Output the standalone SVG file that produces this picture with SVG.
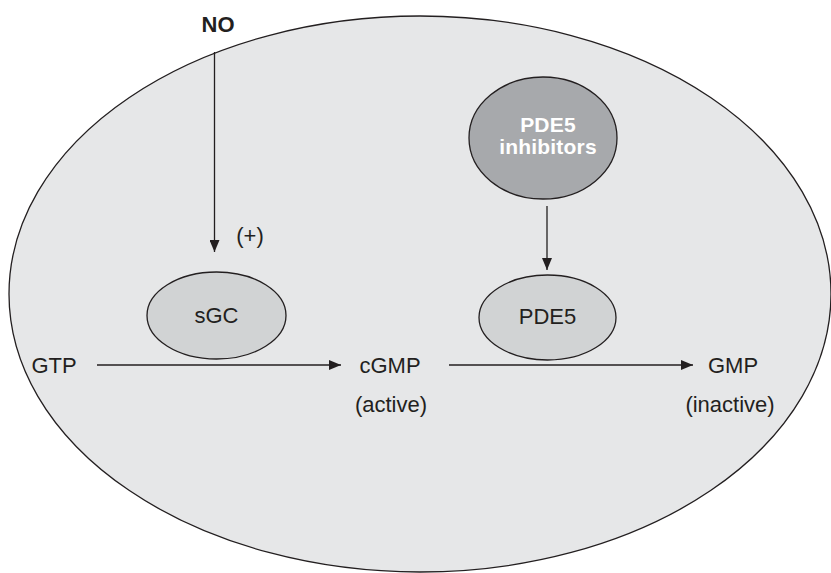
<svg xmlns="http://www.w3.org/2000/svg" width="831" height="573" viewBox="0 0 831 573">
<style>
.t{font-family:"Liberation Sans",Arial,sans-serif;font-size:22px;fill:#231f20;text-anchor:middle}
.b{font-weight:bold}
.w{fill:#ffffff;font-weight:bold;font-size:21px;letter-spacing:0.2px}
.ln{stroke:#231f20;stroke-width:1.3;fill:none}
.node{stroke:#231f20;stroke-width:1.3}
</style>
<defs>
<marker id="ah" viewBox="0 0 12 10" refX="12" refY="5" markerWidth="12" markerHeight="10" markerUnits="userSpaceOnUse" orient="auto">
<path d="M0,0 L12,5 L0,10 Z" fill="#231f20"/>
</marker>
</defs>
<rect width="831" height="573" fill="#ffffff"/>
<g id="cell">
<ellipse cx="420" cy="294" rx="411" ry="278" fill="#e6e7e8" class="node"/>
</g>
<g id="connectors">
<line x1="214.5" y1="52" x2="214.5" y2="252" class="ln" marker-end="url(#ah)"/>
<line x1="547" y1="206" x2="547" y2="270" class="ln" marker-end="url(#ah)"/>
<line x1="97" y1="365" x2="341" y2="365" class="ln" marker-end="url(#ah)"/>
<line x1="449" y1="365" x2="693" y2="365" class="ln" marker-end="url(#ah)"/>
</g>
<g id="no"><text x="218" y="32" class="t b">NO</text></g>
<g id="plus"><text x="250" y="243" class="t">(+)</text></g>
<g id="sgc">
<ellipse cx="216.5" cy="315.5" rx="69.5" ry="43.5" fill="#d1d3d4" class="node"/>
<text x="216.5" y="323" class="t">sGC</text>
</g>
<g id="pde5inh">
<ellipse cx="543" cy="138" rx="74" ry="61" fill="#a7a9ac" class="node"/>
<text x="548" y="132" class="t w">PDE5</text>
<text x="548" y="154" class="t w">inhibitors</text>
</g>
<g id="pde5">
<ellipse cx="547.5" cy="317.5" rx="68.5" ry="42.5" fill="#d1d3d4" class="node"/>
<text x="547.5" y="324" class="t">PDE5</text>
</g>
<g id="gtp"><text x="54" y="373" class="t">GTP</text></g>
<g id="cgmp">
<text x="390" y="373" class="t">cGMP</text>
<text x="391" y="412" class="t">(active)</text>
</g>
<g id="gmp">
<text x="733" y="373" class="t">GMP</text>
<text x="730" y="412" class="t">(inactive)</text>
</g>
</svg>
